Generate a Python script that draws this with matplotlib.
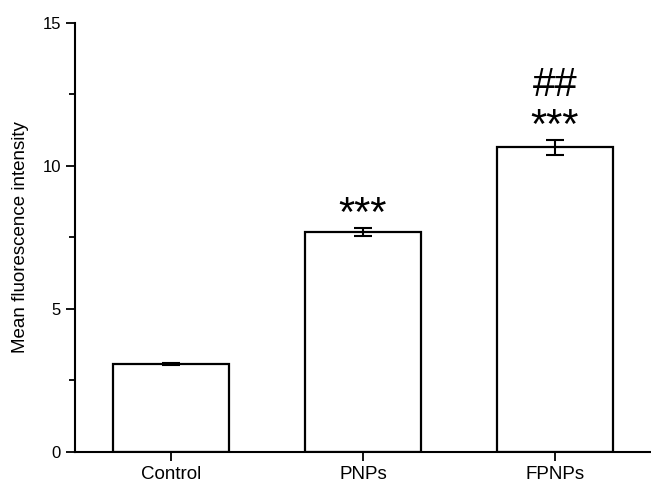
import matplotlib
matplotlib.use('Agg')
import matplotlib.pyplot as plt
from matplotlib.ticker import MultipleLocator

plt.rcParams['font.family'] = ['Liberation Sans', 'DejaVu Sans']

# values
groups = ['Control', 'PNPs', 'FPNPs']
means = [3.07, 7.68, 10.64]
errors = [0.03, 0.15, 0.26]
marks = ['', '***', '***']
marks2 = ['', '', '##']

fig = plt.figure(figsize=(6.51, 4.83), dpi=100)
ax = fig.add_axes([0.1152, 0.0642, 0.8848, 0.8888])

x = range(len(groups))
ax.bar(x, means, width=0.6, color='white', edgecolor='black', linewidth=1.6)
ax.errorbar(x, means, yerr=errors, fmt='none', ecolor='black',
            elinewidth=1.5, capsize=6.5, capthick=1.5)

# significance marks above the error bars
for i, (m, e) in enumerate(zip(means, errors)):
    if marks[i]:
        ax.text(i, m + e + 0.07, marks[i], ha='center', va='baseline',
                fontsize=30)
    if marks2[i]:
        ax.text(i, m + e + 1.55, marks2[i], ha='center', va='baseline',
                fontsize=29)

ax.set_xlim(-0.5, 2.5)
ax.set_ylim(0, 15)
ax.set_xticks(list(x))
ax.set_xticklabels(groups, fontsize=13.5)
ax.yaxis.set_major_locator(MultipleLocator(5))
ax.yaxis.set_minor_locator(MultipleLocator(2.5))
ax.tick_params(axis='y', labelsize=12)
ax.tick_params(which='major', direction='out', length=6.5, width=1.3)
ax.tick_params(which='minor', direction='out', length=4, width=1.3)
ax.set_ylabel('Mean fluorescence intensity', fontsize=13.5)
ax.yaxis.set_label_coords(-0.08, 0.5)

for s in ['top', 'right']:
    ax.spines[s].set_visible(False)
for s in ['left', 'bottom']:
    ax.spines[s].set_linewidth(1.5)

fig.savefig('out.png', dpi=100)
